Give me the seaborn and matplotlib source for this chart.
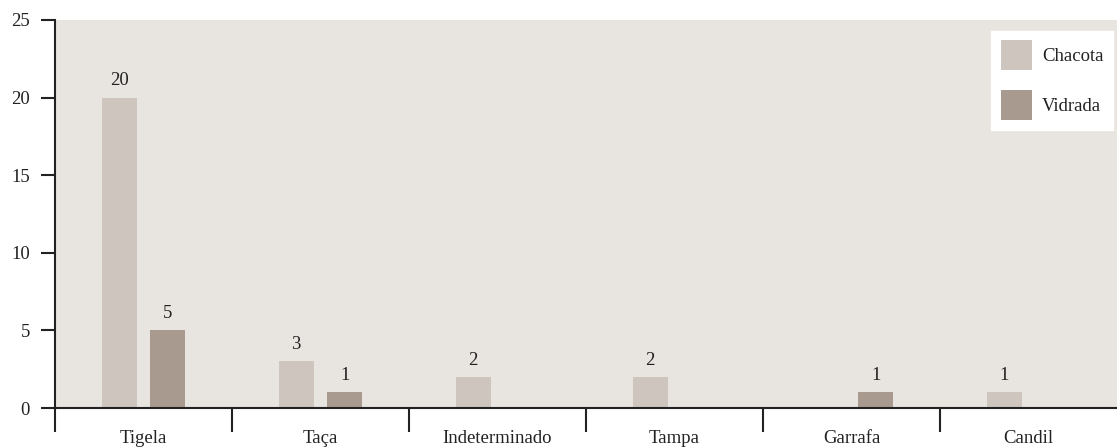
import pandas as pd
import matplotlib.pyplot as plt
import seaborn as sns

categories = ['Tigela', 'Taça', 'Indeterminado', 'Tampa', 'Garrafa', 'Candil']
chacota = [20, 3, 2, 2, 0, 1]
vidrada = [5, 1, 0, 0, 1, 0]
series_names = ['Chacota', 'Vidrada']
colors = ['#cfc5bf', '#a89a8e']

df = pd.DataFrame({
    'tipo': categories * 2,
    'serie': [series_names[0]] * len(categories) + [series_names[1]] * len(categories),
    'valor': chacota + vidrada,
})

sns.set_style('white')
plt.rcParams['font.family'] = ['Liberation Serif', 'DejaVu Serif']
FS = 13.5
TXT = '#222222'

fig = plt.figure(figsize=(11.17, 4.48), dpi=100)
ax = fig.add_axes([55 / 1117, 40 / 448, 1062 / 1117, 388 / 448])
ax.set_facecolor('#e8e4df')

sns.barplot(data=df, x='tipo', y='valor', hue='serie', order=categories,
            hue_order=series_names, palette=colors, width=0.55, gap=0.28,
            saturation=1, linewidth=0, ax=ax)

# value labels, skip zeros
for cont in ax.containers:
    labels = [f'{int(v)}' if v > 0 else '' for v in cont.datavalues]
    ax.bar_label(cont, labels=labels, padding=6, fontsize=FS, color=TXT)

ax.set_xlim(-0.5, len(categories) - 0.5)
ax.set_ylim(0, 25)
ax.set_yticks(range(0, 26, 5))
ax.set_xlabel('')
ax.set_ylabel('')

# separators between categories as major ticks, names as minor ticks
ax.set_xticks([i - 0.5 for i in range(len(categories))])
ax.set_xticklabels([])
ax.set_xticks(range(len(categories)), minor=True)
ax.set_xticklabels(categories, minor=True)
ax.tick_params(axis='x', which='major', bottom=True, length=17, width=1.5,
               color=TXT, direction='out')
ax.tick_params(axis='x', which='minor', bottom=True, length=0, pad=16,
               labelsize=FS, labelcolor=TXT)
ax.tick_params(axis='y', left=True, length=10, width=1.5, color=TXT, labelsize=FS,
               labelcolor=TXT, pad=8)

for s in ['top', 'right']:
    ax.spines[s].set_visible(False)
for s in ['left', 'bottom']:
    ax.spines[s].set_color(TXT)
    ax.spines[s].set_linewidth(1.5)

leg = ax.legend(loc='upper right', bbox_to_anchor=(0.996, 0.972), frameon=True,
                fancybox=False, handlelength=1.65, handleheight=2.1, labelspacing=1.05,
                borderpad=0.5, handletextpad=0.55, borderaxespad=0, fontsize=FS)
leg.get_frame().set_facecolor('white')
leg.get_frame().set_edgecolor('white')
leg.get_frame().set_alpha(1)
for t in leg.get_texts():
    t.set_color(TXT)

fig.savefig('out.png', dpi=100)
